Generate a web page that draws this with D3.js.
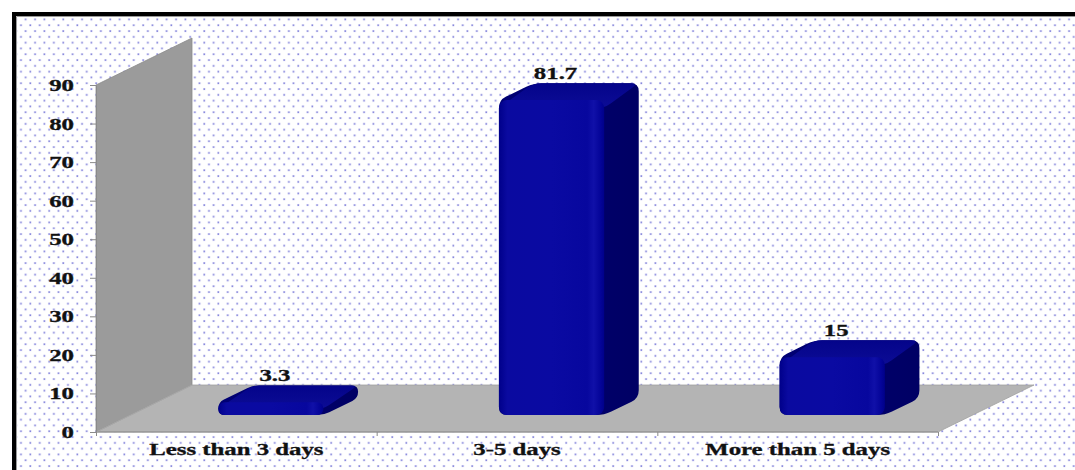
<!DOCTYPE html>
<html>
<head>
<meta charset="utf-8">
<script src="https://cdn.jsdelivr.net/npm/d3@7/dist/d3.min.js"></script>
<style>
  html, body { margin: 0; padding: 0; background: #ffffff; }
  svg { display: block; }
  text { font-family: "Liberation Serif", "Times New Roman", serif; font-weight: bold; fill: #111; stroke: #111; stroke-width: 0.3px; }
</style>
</head>
<body>
<svg id="chart" width="1075" height="470"></svg>
<script>
// Chart data
const categories = ["Less than 3 days", "3-5 days", "More than 5 days"];
const values = [3.3, 81.7, 15];
const yTicks = [0, 10, 20, 30, 40, 50, 60, 70, 80, 90];

const W = 1075, H = 470;
const svg = d3.select("#chart");
const defs = svg.append("defs");

// Dotted backdrop pattern
const pat = defs.append("pattern").attr("id", "dots")
  .attr("patternUnits", "userSpaceOnUse")
  .attr("width", 9.4).attr("height", 11.6);
[[1.5, 1.5], [6.2, 7.3]].forEach(([px, py]) => {
  pat.append("rect").attr("x", px - 0.6).attr("y", py - 0.5).attr("width", 2.5).attr("height", 2.1).attr("fill", "#dcdcf4");
  pat.append("rect").attr("x", px).attr("y", py).attr("width", 1.3).attr("height", 1.1).attr("fill", "#5656cf");
});

// Bar face gradients
const gFront = defs.append("linearGradient").attr("id", "gFront").attr("x1", 0).attr("x2", 1).attr("y1", 0).attr("y2", 0);
[[0, "#00008a"], [0.08, "#0a0aa0"], [0.5, "#0a0aa2"], [0.84, "#07079e"], [0.9, "#1010a8"], [0.96, "#05059a"], [1, "#00008a"]]
  .forEach(([o, c]) => gFront.append("stop").attr("offset", o).attr("stop-color", c));
const gTop = defs.append("linearGradient").attr("id", "gTop").attr("x1", 0).attr("x2", 0).attr("y1", 1).attr("y2", 0);
[[0, "#0c0c96"], [1, "#04048a"]].forEach(([o, c]) => gTop.append("stop").attr("offset", o).attr("stop-color", c));
const gSide = defs.append("linearGradient").attr("id", "gSide").attr("x1", 0).attr("x2", 1).attr("y1", 0).attr("y2", 0);
[[0, "#000074"], [1, "#000064"]].forEach(([o, c]) => gSide.append("stop").attr("offset", o).attr("stop-color", c));

// Frame
svg.append("rect").attr("x", 16).attr("y", 16).attr("width", W - 16).attr("height", H - 16).attr("fill", "url(#dots)");
svg.append("rect").attr("x", 12).attr("y", 12).attr("width", W - 12).attr("height", 4).attr("fill", "#000");
svg.append("rect").attr("x", 12).attr("y", 12).attr("width", 4).attr("height", H - 12).attr("fill", "#000");
svg.append("path").attr("d", `M16.5,${H}V16.5H${W}`).attr("fill", "none").attr("stroke", "#9a9a9a").attr("stroke-width", 1);

// Plot geometry
const x0 = 96, x1 = 938, floorY = 432;
const depth = { dx: 96, dy: -47 };
const x = d3.scaleBand().domain(categories).range([x0, x1]);
const y = d3.scaleLinear().domain([0, 90]).range([floorY, 85]);

const g = svg.append("g");

// Side wall and floor
const wallTop = y(90);
g.append("path")
  .attr("d", `M${x0},${wallTop}L${x0 + depth.dx},${wallTop + depth.dy}L${x0 + depth.dx},${floorY + depth.dy}L${x0},${floorY}Z`)
  .attr("fill", "#9b9b9b").attr("stroke", "#8a8a8a").attr("stroke-width", 0.8);
g.append("path")
  .attr("d", `M${x0},${floorY}L${x1},${floorY}L${x1 + depth.dx},${floorY + depth.dy}L${x0 + depth.dx},${floorY + depth.dy}Z`)
  .attr("fill", "#b4b4b4").attr("stroke", "#a0a0a0").attr("stroke-width", 0.8);
g.append("line")
  .attr("x1", x0).attr("y1", floorY).attr("x2", x1).attr("y2", floorY)
  .attr("stroke", "#8c8c8c").attr("stroke-width", 1.2);
g.append("line")
  .attr("x1", x0).attr("y1", floorY).attr("x2", x0 + depth.dx).attr("y2", floorY + depth.dy)
  .attr("stroke", "#a8a8a8").attr("stroke-width", 1);

// Value axis
const yAxis = g.append("g").attr("transform", `translate(${x0},0)`)
  .call(d3.axisLeft(y).tickValues(yTicks).tickSize(6).tickSizeOuter(0).tickPadding(0));
yAxis.select(".domain").attr("stroke", "#8a8a8a");
yAxis.selectAll(".tick line").attr("stroke", "#8a8a8a");
yAxis.selectAll(".tick text")
  .attr("x", null).attr("dy", "0.34em")
  .attr("transform", "translate(-22,0) scale(1.55,1)")
  .attr("text-anchor", "end")
  .attr("fill", null).attr("font-family", null).attr("font-size", null)
  .style("font-size", "16px");

// Category axis ticks at band boundaries
const edges = d3.scaleLinear().domain([0, categories.length]).range([x0, x1]);
const xAxis = g.append("g").attr("transform", `translate(0,${floorY})`)
  .call(d3.axisBottom(edges).tickValues(d3.range(categories.length + 1)).tickFormat("").tickSize(4).tickSizeOuter(0));
xAxis.select(".domain").remove();
xAxis.selectAll(".tick line").attr("stroke", "#8a8a8a");

// Category labels
g.selectAll("text.cat").data(categories).join("text")
  .attr("class", "cat")
  .attr("transform", d => `translate(${x(d) + x.bandwidth() / 2},455) scale(1.55,1)`)
  .attr("text-anchor", "middle")
  .style("font-size", "16px")
  .text(d => d);

// Rounded polygon helper
function roundedPath(pts, r) {
  const n = pts.length;
  let d = "";
  for (let i = 0; i < n; i++) {
    const p = pts[i], prev = pts[(i - 1 + n) % n], next = pts[(i + 1) % n];
    const v1 = [prev[0] - p[0], prev[1] - p[1]], v2 = [next[0] - p[0], next[1] - p[1]];
    const l1 = Math.hypot(...v1), l2 = Math.hypot(...v2);
    const rr = Math.min(r, l1 / 2, l2 / 2);
    const a = [p[0] + v1[0] / l1 * rr, p[1] + v1[1] / l1 * rr];
    const b = [p[0] + v2[0] / l2 * rr, p[1] + v2[1] / l2 * rr];
    d += (i === 0 ? "M" : "L") + a[0] + "," + a[1] + "Q" + p[0] + "," + p[1] + "," + b[0] + "," + b[1];
  }
  return d + "Z";
}

// 3D bars
const d0 = 0.36, d1 = 0.72, barFrac = 0.375;
const data = categories.map((c, i) => ({ c, v: values[i] }));
const bars = g.selectAll("g.bar").data(data).join("g").attr("class", "bar");

bars.each(function (d) {
  const sel = d3.select(this);
  const cx = x(d.c) + x.bandwidth() / 2;
  const w = x.bandwidth() * barFrac;
  const ox0 = depth.dx * d0, oy0 = depth.dy * d0;
  const ox1 = depth.dx * d1, oy1 = depth.dy * d1;
  const L = cx - w / 2, R = cx + w / 2;
  const yt = y(d.v), yb = y(0);
  const h = yb - yt;
  const r = Math.min(8, h / 2);

  // silhouette
  const sil = [[L + ox0, yb + oy0], [L + ox0, yt + oy0], [L + ox1, yt + oy1], [R + ox1, yt + oy1], [R + ox1, yb + oy1], [R + ox0, yb + oy0]];
  sel.append("path").attr("d", roundedPath(sil, r)).attr("fill", "url(#gSide)");
  // top face
  const top = [[L + ox0, yt + oy0 + r], [L + ox1, yt + oy1], [R + ox1, yt + oy1], [R + ox0, yt + oy0 + r]];
  sel.append("path").attr("d", roundedPath(top, r)).attr("fill", "url(#gTop)");
  // front face
  sel.append("rect")
    .attr("x", L + ox0).attr("y", yt + oy0).attr("width", w).attr("height", h)
    .attr("rx", r).attr("ry", r)
    .attr("fill", "url(#gFront)");

  // value label
  sel.append("text")
    .attr("transform", `translate(${cx + ox0 + 4},${yt + (oy0 + oy1) / 2 - 13}) scale(1.55,1)`)
    .attr("text-anchor", "middle")
    .style("font-size", "16px")
    .text(d.v);
});
</script>
</body>
</html>
